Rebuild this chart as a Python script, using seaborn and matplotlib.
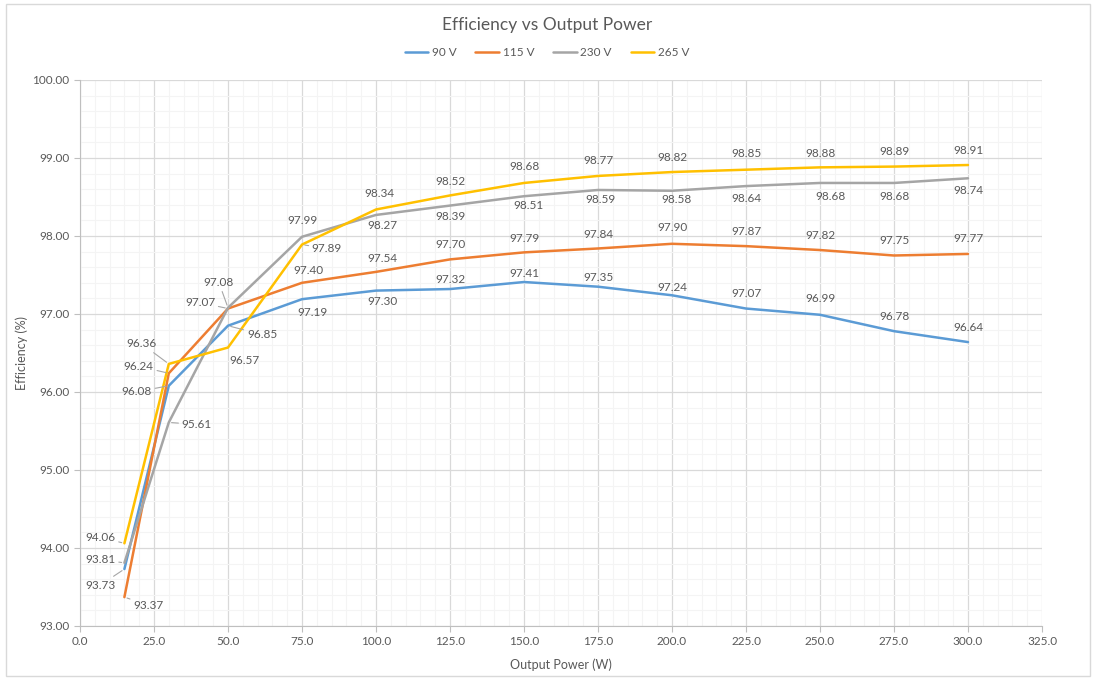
import pandas as pd
import numpy as np
import seaborn as sns
import matplotlib.pyplot as plt
from matplotlib.ticker import MultipleLocator, FormatStrFormatter
from matplotlib.patches import Rectangle

sns.set_style("white")
plt.rcParams['font.family'] = ['Lato', 'DejaVu Sans']

# data
power = [15, 30, 50, 75, 100, 125, 150, 175, 200, 225, 250, 275, 300]
eff_90 = [93.73, 96.08, 96.85, 97.19, 97.30, 97.32, 97.41, 97.35, 97.24, 97.07, 96.99, 96.78, 96.64]
eff_115 = [93.37, 96.24, 97.07, 97.40, 97.54, 97.70, 97.79, 97.84, 97.90, 97.87, 97.82, 97.75, 97.77]
eff_230 = [93.81, 95.61, 97.08, 97.99, 98.27, 98.39, 98.51, 98.59, 98.58, 98.64, 98.68, 98.68, 98.74]
eff_265 = [94.06, 96.36, 96.57, 97.89, 98.34, 98.52, 98.68, 98.77, 98.82, 98.85, 98.88, 98.89, 98.91]
series = ["90 V", "115 V", "230 V", "265 V"]
colors = ["#5B9BD5", "#ED7D31", "#A5A5A5", "#FFC000"]

df = pd.concat([
    pd.DataFrame({"Power": power, "Eff": vals, "Input": name})
    for name, vals in zip(series, [eff_90, eff_115, eff_230, eff_265])
])

# label placement (pixel offsets dx, dy-down, leader line?)
offsets = {
    "90 V": [(-24, 16, 1), (-32, 6, 1), (34, 9, 1), (11, 13, 0), (7, 11, 0), (0, -10, 0), (0, -9, 0),
             (0, -9, 0), (0, -8, 0), (0, -15, 0), (0, -16, 0), (0, -15, 0), (0, -15, 0)],
    "115 V": [(24, 8, 1), (-30, -7, 1), (-28, -6, 1), (6, -12, 0), (6, -13, 0), (0, -15, 0), (0, -14, 0),
              (0, -14, 0), (0, -16, 0), (0, -15, 0), (0, -15, 0), (0, -15, 0), (0, -15, 0)],
    "230 V": [(-24, -3, 1), (28, 2, 1), (-9, -25, 1), (1, -16, 0), (6, 11, 0), (0, 11, 0), (4, 9, 0),
              (3, 10, 0), (4, 9, 0), (0, 12, 0), (10, 14, 0), (0, 14, 0), (0, 12, 0)],
    "265 V": [(-24, -6, 1), (-27, -20, 1), (17, 13, 0), (25, 4, 1), (3, -16, 0), (0, -14, 0), (0, -16, 0),
              (0, -15, 0), (0, -15, 0), (0, -16, 0), (0, -14, 0), (0, -15, 0), (0, -15, 0)],
}

fig = plt.figure(figsize=(10.94, 6.79), dpi=100)
ax = fig.add_axes([80 / 1094, 1 - 626 / 679, (1042 - 80) / 1094, (626 - 80) / 679])

sns.lineplot(data=df, x="Power", y="Eff", hue="Input", palette=colors, linewidth=1.8, ax=ax, legend=True)

txt = "#595959"
for name, vals in zip(series, [eff_90, eff_115, eff_230, eff_265]):
    for x, v, (dx, dy, lead) in zip(power, vals, offsets[name]):
        kw = {}
        if lead:
            kw["arrowprops"] = dict(arrowstyle="-", color="#A6A6A6", lw=0.8, shrinkA=0, shrinkB=2)
        ax.annotate(f"{v:.2f}", (x, v), xytext=(dx, -dy), textcoords="offset pixels",
                    ha="center", va="center", fontsize=8.5, color=txt, **kw)

ax.set_xlim(0, 325)
ax.set_ylim(93, 100)
ax.xaxis.set_major_locator(MultipleLocator(25))
ax.xaxis.set_minor_locator(MultipleLocator(5))
ax.yaxis.set_major_locator(MultipleLocator(1))
ax.yaxis.set_minor_locator(MultipleLocator(0.2))
ax.xaxis.set_major_formatter(FormatStrFormatter("%.1f"))
ax.yaxis.set_major_formatter(FormatStrFormatter("%.2f"))
ax.grid(which="major", color="#D9D9D9", lw=0.9)
ax.grid(which="minor", color="#F4F4F4", lw=0.8)
ax.set_axisbelow(True)
for s in ["top", "right"]:
    ax.spines[s].set_visible(False)
for s in ["left", "bottom"]:
    ax.spines[s].set_color("#BFBFBF")
ax.tick_params(which="major", length=4, color="#BFBFBF", labelsize=8.5, labelcolor=txt, direction="out",
               left=True, bottom=True)
ax.tick_params(which="minor", length=0)

ax.set_xlabel("Output Power (W)", fontsize=9, color=txt, labelpad=8)
ax.set_ylabel("Efficiency (%)", fontsize=9, color=txt, labelpad=3)
fig.text(0.5, 1 - 25 / 679, "Efficiency vs Output Power", ha="center", va="center", fontsize=12.5, color=txt)

h, l = ax.get_legend_handles_labels()
ax.legend(h, l, loc="center", bbox_to_anchor=(0.5, 1 - 53 / 679), bbox_transform=fig.transFigure,
          ncol=4, frameon=False, fontsize=8.5, labelcolor=txt, handlelength=2.0, handletextpad=0.3,
          columnspacing=1.6)

fig.patches.append(Rectangle((6 / 1094, 3 / 679), 1084 / 1094, 672 / 679, transform=fig.transFigure,
                             fill=False, edgecolor="#D9D9D9", lw=1))

fig.savefig("out.png", dpi=100)
